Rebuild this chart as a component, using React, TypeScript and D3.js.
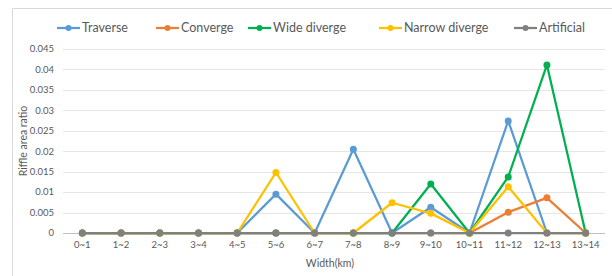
import React, { useEffect, useRef } from 'react';
import * as d3 from 'd3';

const categories = ['0~1', '1~2', '2~3', '3~4', '4~5', '5~6', '6~7', '7~8', '8~9', '9~10', '10~11', '11~12', '12~13', '13~14'];
const traverse = [0, 0, 0, 0, 0, 0.0095, 0, 0.0205, 0, 0.0063, 0, 0.0274, 0, 0];
const converge = [0, 0, 0, 0, 0, 0, 0, 0, 0, 0, 0, 0.0051, 0.0086, 0];
const wideDiverge = [0, 0, 0, 0, 0, 0, 0, 0, 0, 0.012, 0, 0.0137, 0.0411, 0];
const narrowDiverge = [0, 0, 0, 0, 0, 0.0148, 0, 0, 0.0074, 0.0048, 0, 0.0113, 0, 0];
const artificial = [0, 0, 0, 0, 0, 0, 0, 0, 0, 0, 0, 0, 0, 0];
const yTicks = [0, 0.005, 0.01, 0.015, 0.02, 0.025, 0.03, 0.035, 0.04, 0.045];

const series = [
  { name: 'Traverse', color: '#5B9BD5', values: traverse },
  { name: 'Converge', color: '#ED7D31', values: converge },
  { name: 'Wide diverge', color: '#00B050', values: wideDiverge },
  { name: 'Narrow diverge', color: '#FFC000', values: narrowDiverge },
  { name: 'Artificial', color: '#808080', values: artificial },
];

const legendX = [57, 156, 248, 379, 514];

export default function App() {
  const svgRef = useRef<SVGSVGElement>(null);

  useEffect(() => {
    const width = 612;
    const height = 276;
    const plot = { left: 63, right: 605, top: 49, bottom: 233 };
    const font = 'Lato, Calibri, sans-serif';

    const svg = d3.select(svgRef.current);
    svg.selectAll('*').remove();

    svg.append('rect')
      .attr('width', width)
      .attr('height', height)
      .attr('fill', 'white');

    // frame
    svg.append('path')
      .attr('d', `M12.5,${height} L12.5,8.5 L${width},8.5`)
      .attr('fill', 'none')
      .attr('stroke', '#D9D9D9')
      .attr('stroke-width', 1);

    const x = d3.scalePoint<string>()
      .domain(categories)
      .range([plot.left, plot.right])
      .padding(0.5);

    const y = d3.scaleLinear()
      .domain([0, 0.045])
      .range([plot.bottom, plot.top]);

    // gridlines
    svg.append('g')
      .selectAll('line')
      .data(yTicks)
      .join('line')
      .attr('x1', plot.left)
      .attr('x2', plot.right)
      .attr('y1', d => Math.round(y(d)) + 0.5)
      .attr('y2', d => Math.round(y(d)) + 0.5)
      .attr('stroke', '#E6E6E6')
      .attr('stroke-width', 1);

    svg.append('g')
      .selectAll('text')
      .data(yTicks)
      .join('text')
      .attr('x', 54)
      .attr('y', d => y(d))
      .attr('dy', '0.35em')
      .attr('text-anchor', 'end')
      .attr('font-family', font)
      .attr('font-size', 9.5)
      .attr('fill', '#595959')
      .text(d => (d === 0 ? '0' : String(+d.toFixed(3))));

    svg.append('g')
      .selectAll('text')
      .data(categories)
      .join('text')
      .attr('x', d => x(d)!)
      .attr('y', 248)
      .attr('text-anchor', 'middle')
      .attr('font-family', font)
      .attr('font-size', 9.5)
      .attr('fill', '#595959')
      .text(d => d);

    // axis line
    svg.append('line')
      .attr('x1', plot.left)
      .attr('x2', plot.right)
      .attr('y1', plot.bottom + 0.5)
      .attr('y2', plot.bottom + 0.5)
      .attr('stroke', '#BFBFBF');

    const line = d3.line<number>()
      .x((d, i) => x(categories[i])!)
      .y(d => y(d));

    series.forEach(s => {
      const g = svg.append('g');
      g.append('path')
        .datum(s.values)
        .attr('fill', 'none')
        .attr('stroke', s.color)
        .attr('stroke-width', 2.25)
        .attr('stroke-linejoin', 'round')
        .attr('d', line);
      g.selectAll('circle')
        .data(s.values)
        .join('circle')
        .attr('cx', (d, i) => x(categories[i])!)
        .attr('cy', d => y(d))
        .attr('r', 3.5)
        .attr('fill', s.color);
    });

    // legend
    const legend = svg.append('g');
    series.forEach((s, i) => {
      const lx = legendX[i];
      const ly = 28;
      legend.append('line')
        .attr('x1', lx)
        .attr('x2', lx + 23)
        .attr('y1', ly)
        .attr('y2', ly)
        .attr('stroke', s.color)
        .attr('stroke-width', 2.25);
      legend.append('circle')
        .attr('cx', lx + 11.5)
        .attr('cy', ly)
        .attr('r', 3)
        .attr('fill', s.color);
      legend.append('text')
        .attr('x', lx + 25)
        .attr('y', ly)
        .attr('dy', '0.35em')
        .attr('font-family', font)
        .attr('font-size', 12.5)
        .attr('fill', '#595959')
        .text(s.name);
    });

    svg.append('text')
      .attr('transform', `translate(23,${(plot.top + plot.bottom) / 2}) rotate(-90)`)
      .attr('text-anchor', 'middle')
      .attr('dy', '0.35em')
      .attr('font-family', font)
      .attr('font-size', 10.5)
      .attr('fill', '#595959')
      .text('Riffle area ratio');

    svg.append('text')
      .attr('x', (plot.left + plot.right) / 2 - 4)
      .attr('y', 263)
      .attr('dy', '0.35em')
      .attr('text-anchor', 'middle')
      .attr('font-family', font)
      .attr('font-size', 10.5)
      .attr('fill', '#595959')
      .text('Width(km)');
  }, []);

  return (
    <svg ref={svgRef} width={612} height={276} style={{ position: 'absolute', left: 0, top: 0, display: 'block' }} />
  );
}
